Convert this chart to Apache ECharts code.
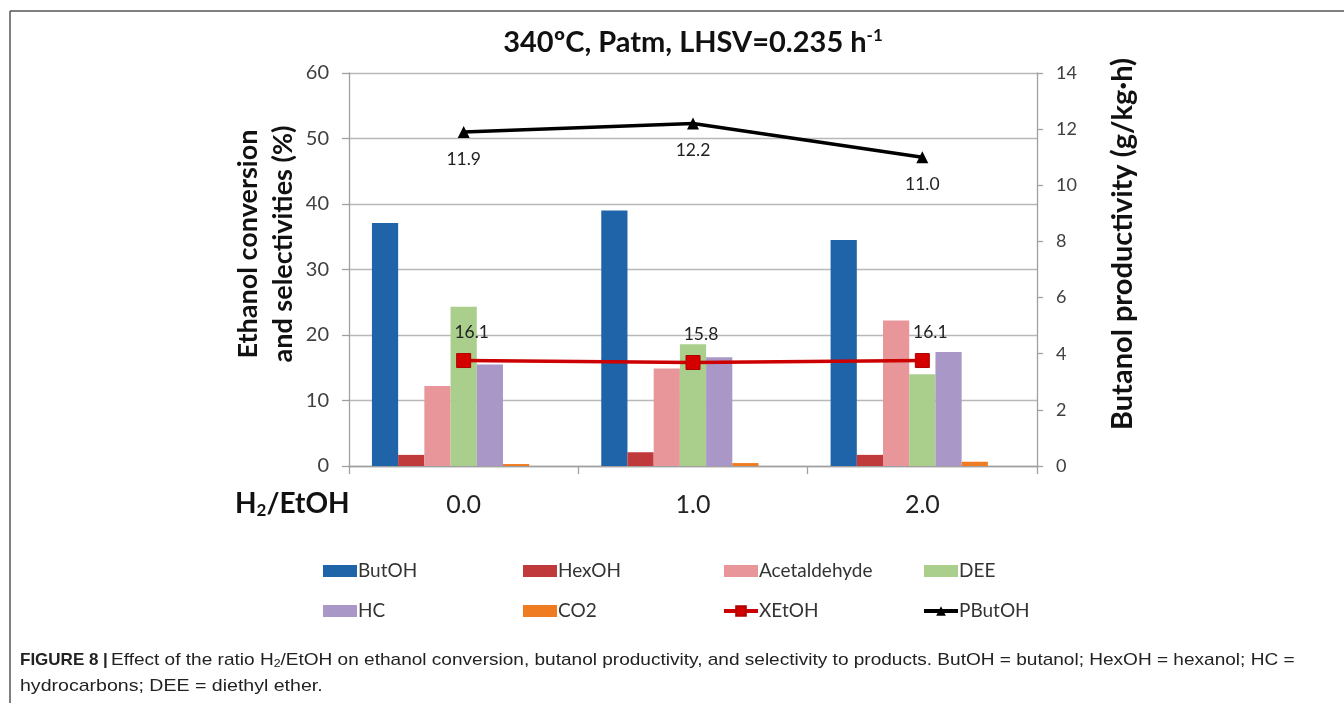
<!DOCTYPE html>
<html>
<head>
<meta charset="utf-8">
<script src="https://cdn.jsdelivr.net/npm/echarts@6/dist/echarts.min.js"></script>
<style>
html,body{margin:0;padding:0;background:#fff;}
#c{width:1344px;height:703px;}
</style>
</head>
<body>
<div id="c"></div>
<script>
// ---- data ----
const categories = ['0.0', '1.0', '2.0'];
const butOH = [37.1, 39.0, 34.5];
const hexOH = [1.7, 2.1, 1.7];
const acetaldehyde = [12.2, 14.9, 22.2];
const dee = [24.3, 18.6, 14.0];
const hc = [15.5, 16.6, 17.4];
const co2 = [0.3, 0.45, 0.65];
const xEtOH = [16.1, 15.8, 16.1];
const pButOH = [11.9, 12.2, 11.0];
const leftTicks = [0, 60, 10];
const rightTicks = [0, 14, 2];

const chart = echarts.init(document.getElementById('c'));
const base = 'Lato, "Open Sans", sans-serif';
const capFont = '"Liberation Sans", Arial, sans-serif';

function bar(name, data, color) {
  return {
    name, type: 'bar', data, yAxisIndex: 0,
    barGap: '0%', barCategoryGap: '20%',
    itemStyle: { color }, emphasis: { disabled: true }
  };
}

const legendCommon = {
  orient: 'vertical', top: 555, itemWidth: 34, itemHeight: 12, itemGap: 18,
  textStyle: { fontFamily: base, fontSize: 19, color: '#333', lineHeight: 22, padding: [0,0,0,-4] },
  selectedMode: false
};
function legendData(names) {
  return names.map(n => (n === 'XEtOH' || n === 'PButOH')
    ? { name: n, lineStyle: { width: 4 } }
    : { name: n, icon: 'rect' });
}

chart.setOption({
  animation: false,
  grid: { left: 349, right: 307, top: 73, bottom: 237 },
  xAxis: {
    type: 'category', data: categories,
    axisLine: { lineStyle: { color: '#a0a0a0', width: 1.3 } },
    axisTick: { show: true, length: 8, alignWithLabel: false, lineStyle: { color: '#a0a0a0', width: 1.3 } },
    axisLabel: { fontFamily: base, fontSize: 25, color: '#222', margin: 26 }
  },
  yAxis: [
    {
      type: 'value', min: leftTicks[0], max: leftTicks[1], interval: leftTicks[2],
      axisLine: { show: true, lineStyle: { color: '#a0a0a0', width: 1.3 } },
      axisTick: { show: true, length: 7, lineStyle: { color: '#a0a0a0', width: 1.3 } },
      axisLabel: { fontFamily: base, fontSize: 20, color: '#404040', margin: 20 },
      splitLine: { show: true, lineStyle: { color: '#b8b8b8', width: 1.3 } }
    },
    {
      type: 'value', min: rightTicks[0], max: rightTicks[1], interval: rightTicks[2],
      position: 'right',
      axisLine: { show: true, lineStyle: { color: '#a0a0a0', width: 1.3 } },
      axisTick: { show: true, length: 6, lineStyle: { color: '#a0a0a0', width: 1.3 } },
      axisLabel: { fontFamily: base, fontSize: 18, color: '#404040', margin: 19 },
      splitLine: { show: false }
    }
  ],
  legend: [
    Object.assign({ left: 318, data: legendData(['ButOH', 'HC']) }, legendCommon),
    Object.assign({ left: 518, data: legendData(['HexOH', 'CO2']) }, legendCommon),
    Object.assign({ left: 717, data: legendData(['Acetaldehyde', 'XEtOH']) }, legendCommon),
    Object.assign({ left: 917, data: legendData(['DEE', 'PButOH']) }, legendCommon)
  ],
  series: [
    bar('ButOH', butOH, '#1f63a8'),
    bar('HexOH', hexOH, '#c0393b'),
    bar('Acetaldehyde', acetaldehyde, '#e8969a'),
    bar('DEE', dee, '#aacf8c'),
    bar('HC', hc, '#a998c7'),
    bar('CO2', co2, '#f07c22'),
    { name: 'gap', type: 'bar', data: [null, null, null], barGap: '0%', barCategoryGap: '20%' },
    {
      name: 'XEtOH', type: 'line', data: xEtOH, yAxisIndex: 0,
      symbol: 'rect', symbolSize: 14, z: 5,
      lineStyle: { color: '#cc0000', width: 3.5 },
      itemStyle: { color: '#d40000', borderColor: '#b00000', borderWidth: 1 },
      label: { show: true, position: 'top', distance: 12, offset: [8, 0], formatter: p => p.value.toFixed(1),
        fontFamily: base, fontSize: 17.5, color: '#222' },
      emphasis: { disabled: true }
    },
    {
      name: 'PButOH', type: 'line', data: pButOH, yAxisIndex: 1,
      symbol: 'triangle', symbolSize: 12, z: 5,
      lineStyle: { color: '#000', width: 3.5 },
      itemStyle: { color: '#000' },
      label: { show: true, position: 'bottom', distance: 12, formatter: p => p.value.toFixed(1),
        fontFamily: base, fontSize: 17.5, color: '#222' },
      emphasis: { disabled: true }
    }
  ],
  graphic: [
    { type: 'line', shape: { x1: 10, y1: 11, x2: 1344, y2: 11 }, style: { stroke: '#555', lineWidth: 1.5 } },
    { type: 'line', shape: { x1: 10, y1: 11, x2: 10, y2: 703 }, style: { stroke: '#555', lineWidth: 1.5 } },
    { type: 'text', x: 693, y: 43, style: {
        text: '{a|340ºC, Patm, LHSV=0.235 h}{s|-1}', textAlign: 'center', textVerticalAlign: 'middle',
        rich: { a: { fontFamily: base, fontWeight: 'bold', fontSize: 29, fill: '#111', lineHeight: 34 },
                s: { fontFamily: base, fontWeight: 'bold', fontSize: 17, fill: '#111', lineHeight: 34, padding: [0,0,14,0] } } } },
    { type: 'text', x: 248, y: 244, rotation: Math.PI / 2, style: {
        text: 'Ethanol conversion', textAlign: 'center', textVerticalAlign: 'middle',
        font: 'bold 27px ' + base, fill: '#111' } },
    { type: 'text', x: 283, y: 244, rotation: Math.PI / 2, style: {
        text: 'and selectivities (%)', textAlign: 'center', textVerticalAlign: 'middle',
        font: 'bold 27px ' + base, fill: '#111' } },
    { type: 'text', x: 1123, y: 244, rotation: Math.PI / 2, style: {
        text: 'Butanol productivity (g/kg·h)', textAlign: 'center', textVerticalAlign: 'middle',
        font: 'bold 29px ' + base, fill: '#111' } },
    { type: 'text', x: 235, y: 504, style: {
        text: '{a|H}{s|2}{a|/EtOH}', textVerticalAlign: 'middle',
        rich: { a: { fontFamily: base, fontWeight: 'bold', fontSize: 28, fill: '#111', lineHeight: 32 },
                s: { fontFamily: base, fontWeight: 'bold', fontSize: 17, fill: '#111', lineHeight: 32, padding: [14,0,0,0] } } } },
    { type: 'text', x: 20, y: 660, style: {
        text: 'FIGURE 8 |', textVerticalAlign: 'middle',
        font: 'bold 17px ' + capFont, fill: '#222' } },
    { type: 'text', x: 111, y: 660, scaleX: 1.12, style: {
        text: '{a|Effect of the ratio H}{s|2}{a|/EtOH on ethanol conversion, butanol productivity, and selectivity to products. ButOH = butanol; HexOH = hexanol; HC =}',
        textVerticalAlign: 'middle',
        rich: { a: { fontFamily: capFont, fontSize: 17, fill: '#222', lineHeight: 20 },
                s: { fontFamily: capFont, fontSize: 11, fill: '#222', lineHeight: 20, padding: [8,0,0,0] } } } },
    { type: 'text', x: 20, y: 686, scaleX: 1.15, style: {
        text: 'hydrocarbons; DEE = diethyl ether.', textVerticalAlign: 'middle',
        font: '17px ' + capFont, fill: '#222' } }
  ]
});
</script>
</body>
</html>
